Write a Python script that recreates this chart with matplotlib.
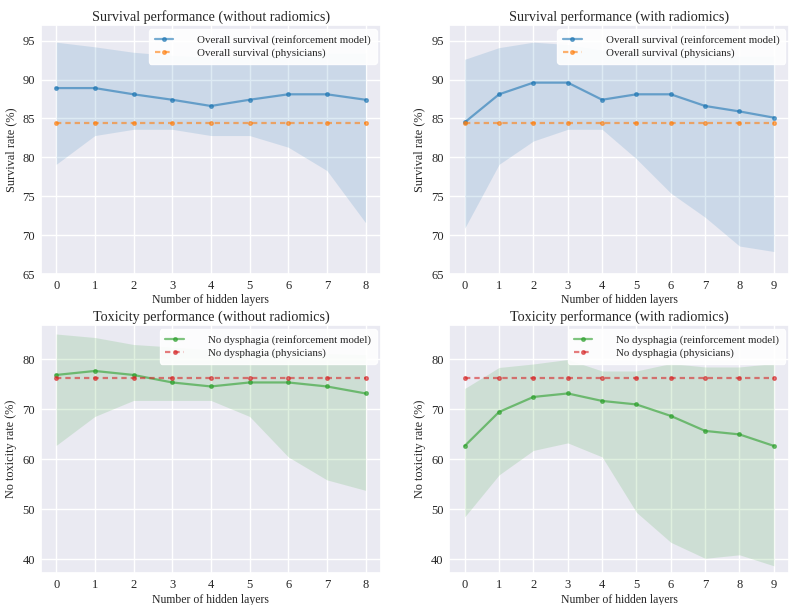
import matplotlib
matplotlib.use("Agg")
import matplotlib.pyplot as plt
import seaborn as sns
import numpy as np

sns.set_theme(style="darkgrid")
plt.rcParams['font.family'] = ['Liberation Serif', 'DejaVu Serif']

# ---- data ----
layers_wo = [0, 1, 2, 3, 4, 5, 6, 7, 8]
layers_w = [0, 1, 2, 3, 4, 5, 6, 7, 8, 9]

surv_wo = [88.9, 88.9, 88.1, 87.4, 86.6, 87.4, 88.1, 88.1, 87.4]
surv_wo_hi = [94.8, 94.2, 93.5, 93.1, 92.9, 93.0, 93.3, 93.4, 93.4]
surv_wo_lo = [79.1, 82.8, 83.6, 83.6, 82.8, 82.8, 81.3, 78.3, 71.6]
surv_phys = 84.4

surv_w = [84.5, 88.1, 89.6, 89.6, 87.4, 88.1, 88.1, 86.6, 85.9, 85.1]
surv_w_hi = [92.6, 94.1, 94.8, 94.5, 93.8, 93.5, 93.4, 93.2, 93.0, 93.0]
surv_w_lo = [70.9, 79.1, 82.1, 83.6, 83.6, 79.8, 75.4, 72.3, 68.6, 67.9]

tox_wo = [76.9, 77.7, 76.9, 75.4, 74.6, 75.4, 75.4, 74.6, 73.2]
tox_wo_hi = [85.1, 84.4, 83.0, 82.5, 82.0, 81.8, 81.5, 81.2, 81.0]
tox_wo_lo = [62.8, 68.6, 71.8, 71.8, 71.8, 68.6, 60.5, 55.9, 53.8]
tox_phys = 76.2

tox_w = [62.7, 69.5, 72.5, 73.2, 71.7, 71.0, 68.7, 65.7, 65.0, 62.7]
tox_w_hi = [74.2, 78.4, 79.1, 80.0, 77.7, 77.7, 79.2, 78.5, 78.5, 79.2]
tox_w_lo = [48.5, 56.9, 61.8, 63.3, 60.5, 49.4, 43.4, 40.2, 40.9, 38.7]

titles = ["Survival performance (without radiomics)",
          "Survival performance (with radiomics)",
          "Toxicity performance (without radiomics)",
          "Toxicity performance (with radiomics)"]

BLUE, ORANGE, GREEN, RED = "#1f77b4", "#ff7f0e", "#2ca02c", "#d62728"

fig = plt.figure(figsize=(8.0, 6.05), dpi=100)
positions = [[0.0509, 0.547, 0.4254, 0.4116],
             [0.5616, 0.547, 0.4250, 0.4116],
             [0.0509, 0.0524, 0.4254, 0.4104],
             [0.5616, 0.0524, 0.4250, 0.4104]]

panels = [
    (layers_wo, surv_wo, surv_wo_lo, surv_wo_hi, surv_phys, BLUE, ORANGE,
     "Overall survival (reinforcement model)", "Overall survival (physicians)",
     "Survival rate (%)", (65, 97), [65, 70, 75, 80, 85, 90, 95]),
    (layers_w, surv_w, surv_w_lo, surv_w_hi, surv_phys, BLUE, ORANGE,
     "Overall survival (reinforcement model)", "Overall survival (physicians)",
     "Survival rate (%)", (65, 97), [65, 70, 75, 80, 85, 90, 95]),
    (layers_wo, tox_wo, tox_wo_lo, tox_wo_hi, tox_phys, GREEN, RED,
     "No dysphagia (reinforcement model)", "No dysphagia (physicians)",
     "No toxicity rate (%)", (37.2, 86.9), [40, 50, 60, 70, 80]),
    (layers_w, tox_w, tox_w_lo, tox_w_hi, tox_phys, GREEN, RED,
     "No dysphagia (reinforcement model)", "No dysphagia (physicians)",
     "No toxicity rate (%)", (37.2, 86.9), [40, 50, 60, 70, 80]),
]

for pos, title, p in zip(positions, titles, panels):
    x, y, lo, hi, phys, c1, c2, lab1, lab2, ylab, ylim, yt = p
    ax = fig.add_axes(pos)
    ax.fill_between(x, lo, hi, color=c1, alpha=0.15, linewidth=0)
    ax.plot(x, y, color=c1, alpha=0.6, lw=1.6, marker='o', ms=2.6,
            label=lab1)
    ax.plot(x, [phys] * len(x), color=c2, alpha=0.6, lw=1.6, ls='--',
            dashes=(2.4, 1.8), marker='o', ms=2.6, label=lab2)
    ax.set_ylim(*ylim)
    ax.set_yticks(yt)
    ax.set_xticks(x)
    ax.set_title(title, fontsize=10.2, pad=3)
    ax.set_xlabel("Number of hidden layers", fontsize=8.5, labelpad=2)
    ax.set_ylabel(ylab, fontsize=8.8, labelpad=4)
    ax.tick_params(labelsize=9, pad=4, length=0)
    leg = ax.legend(loc='upper right', fontsize=7.9, handlelength=1.7,
                    handletextpad=2.2, frameon=True, facecolor='white',
                    framealpha=0.9, borderaxespad=0.4, labelspacing=0.3,
                    borderpad=0.5)
    leg.get_frame().set_edgecolor('white')

fig.savefig("out.png", dpi=100)
